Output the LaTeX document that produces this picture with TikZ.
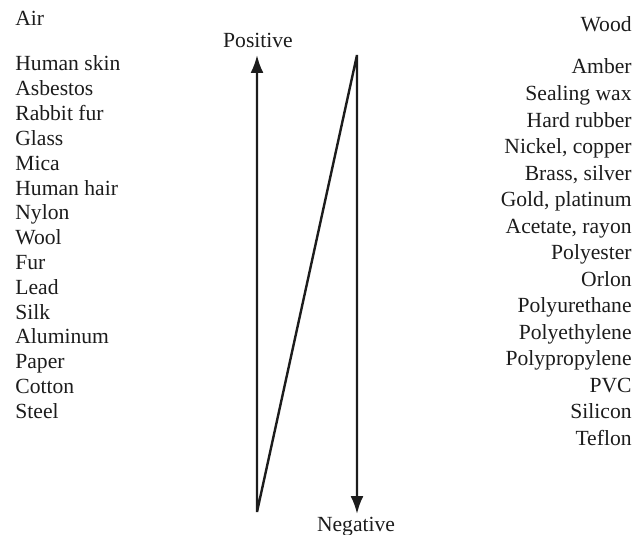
\documentclass[tikz,border=0pt]{standalone}
\usepackage{fontspec}
\setmainfont{Liberation Serif}
\definecolor{tinta}{RGB}{28,28,28}
\usetikzlibrary{arrows.meta,positioning}
\tikzset{
  materialesq/.style={anchor=base west, inner sep=0pt,
                      font=\fontsize{10.8}{13}\selectfont, text=tinta},
  materialdir/.style={anchor=base east, inner sep=0pt,
                      font=\fontsize{10.8}{13}\selectfont, text=tinta},
  rotulo/.style={anchor=base, inner sep=0pt,
                 font=\fontsize{10.8}{13}\selectfont, text=tinta},
  flecha/.style={{Latex[length=9pt,width=6.5pt]}-{Latex[length=9pt,width=6.5pt]},
                 line width=1.2pt, line join=bevel, tinta},
}

\begin{document}
\begin{tikzpicture}[x=0.5pt,y=-0.5pt]
  \useasboundingbox (0,0) rectangle (637,535);
  % serie esquerda
  \node[materialesq] (ar) at (15,26) {Air};
  \foreach \nome [count=\i from 0] in {Human skin,Asbestos,Rabbit fur,Glass,Mica,
      Human hair,Nylon,Wool,Fur,Lead,Silk,Aluminum,Paper,Cotton,Steel}
    \node[materialesq] (esq\i) at (15,71+24.8*\i) {\nome};
  % serie direita
  \node[materialdir] (madeira) at (632,32) {Wood};
  \foreach \nome [count=\i from 0] in {Amber,Sealing wax,Hard rubber,{Nickel, copper},
      {Brass, silver},{Gold, platinum},{Acetate, rayon},Polyester,Orlon,Polyurethane,
      Polyethylene,Polypropylene,PVC,Silicon,Teflon}
    \node[materialdir] (dir\i) at (632,74+26.5*\i) {\nome};
  % setas
  \node[rotulo] (positivo) at (258,48) {Positive};
  \node[rotulo] (negativo) at (356,531) {Negative};
  \coordinate (pontapos) at (257,55);
  \coordinate (baixo) at (257,512);
  \coordinate (topo) at (357,55);
  \coordinate (pontaneg) at (357,514);
  \draw[flecha] (pontapos) -- (baixo) -- (topo) -- (pontaneg);
\end{tikzpicture}
\end{document}
